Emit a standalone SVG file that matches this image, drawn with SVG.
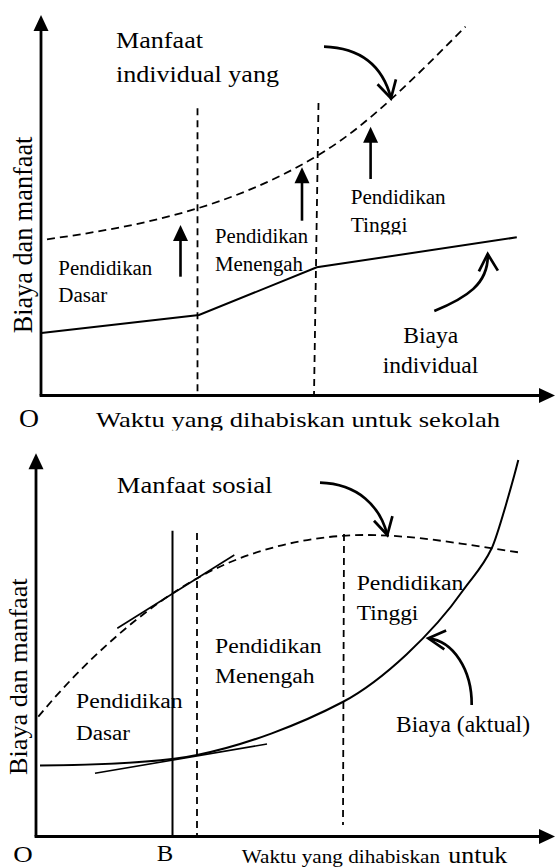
<svg xmlns="http://www.w3.org/2000/svg" width="555" height="868" viewBox="0 0 555 868">
<style>
text{font-family:'Liberation Serif','Times New Roman',serif;fill:#000;}
.ax{stroke:#000;stroke-width:2.8;fill:none;}
.solid{stroke:#000;stroke-width:2;fill:none;}
.thin{stroke:#000;stroke-width:1.6;fill:none;}
.dash{stroke:#000;stroke-width:1.8;fill:none;stroke-dasharray:8 5;}
.vdash{stroke:#000;stroke-width:1.8;fill:none;stroke-dasharray:7 5;}
.up{stroke:#000;stroke-width:2.6;fill:none;}
.curv{stroke:#000;stroke-width:2.7;fill:none;}
.lab{font-size:20px;}
.big{font-size:23px;}
</style>
<defs>
<marker id="fill" markerUnits="userSpaceOnUse" markerWidth="30" markerHeight="30" orient="auto" overflow="visible" refX="0" refY="0">
<path d="M-6,-7.5 L10,0 L-6,7.5 Z" fill="#000"/>
</marker>
<marker id="open" markerUnits="userSpaceOnUse" markerWidth="40" markerHeight="40" orient="auto" overflow="visible" refX="0" refY="0">
<path d="M-17,-9.5 L0,0 L-17,9.5" fill="none" stroke="#000" stroke-width="2.7" stroke-linejoin="miter"/>
</marker>
<clipPath id="clipTinggi"><rect x="300" y="200" width="150" height="34.5"/></clipPath>
<clipPath id="clipWaktu"><rect x="0" y="400" width="555" height="30.5"/></clipPath>
</defs>

<g id="chart-individual">
<g id="axes-top">
<line class="ax" x1="41" y1="395.5" x2="41" y2="25" marker-end="url(#fill)"/>
<line class="ax" x1="39.6" y1="395.5" x2="545" y2="395.5" marker-end="url(#fill)"/>
</g>
<g id="connectors-top">
<line class="vdash" x1="197.5" y1="108.3" x2="197.5" y2="395.5"/>
<line class="vdash" x1="318.5" y1="103" x2="314" y2="395.5"/>
<path id="manfaat-individual-curve" class="dash" d="M47,239.3 C137,226.7 228.6,209 318.6,155 C368.6,125 415.5,76.7 465.5,26.7"/>
<polyline id="biaya-individual-line" class="solid" points="41.4,333 199,315 316.8,267.3 516.8,237.3"/>
<line class="up" x1="180.5" y1="276.7" x2="180.5" y2="235" marker-end="url(#fill)"/>
<line class="up" x1="302" y1="220.7" x2="302" y2="177.3" marker-end="url(#fill)"/>
<line class="up" x1="370.6" y1="179" x2="370.6" y2="136.7" marker-end="url(#fill)"/>
<path class="curv" d="M324,46.7 C362,48 382.7,66.3 391,98.3" marker-end="url(#open)"/>
<path class="curv" d="M434.3,311 C466,298 488.9,284 487.7,254" marker-end="url(#open)"/>
</g>
<g id="labels-top">
<text class="big" x="116" y="48.3" textLength="87" lengthAdjust="spacingAndGlyphs">Manfaat</text>
<text class="big" x="116" y="81.7" textLength="163" lengthAdjust="spacingAndGlyphs">individual yang</text>
<text class="lab" x="58.3" y="275" textLength="94" lengthAdjust="spacingAndGlyphs">Pendidikan</text>
<text class="lab" x="58.3" y="301.7" textLength="49" lengthAdjust="spacingAndGlyphs">Dasar</text>
<text class="lab" x="215" y="243.3" textLength="93" lengthAdjust="spacingAndGlyphs">Pendidikan</text>
<text class="lab" x="215" y="270.7" textLength="88" lengthAdjust="spacingAndGlyphs">Menengah</text>
<text class="lab" x="350.7" y="204" textLength="95" lengthAdjust="spacingAndGlyphs">Pendidikan</text>
<text class="lab" x="350.7" y="231.7" textLength="56.7" lengthAdjust="spacingAndGlyphs" clip-path="url(#clipTinggi)">Tinggi</text>
<text class="big" x="403.3" y="343.3" textLength="55" lengthAdjust="spacingAndGlyphs">Biaya</text>
<text class="big" x="382.7" y="373.3" textLength="95.6" lengthAdjust="spacingAndGlyphs">individual</text>
<text font-size="26.5" transform="translate(31.7,235) rotate(-90)" text-anchor="middle" textLength="196.7" lengthAdjust="spacingAndGlyphs">Biaya dan manfaat</text>
<text font-size="25" x="19" y="426.7" textLength="20" lengthAdjust="spacingAndGlyphs">O</text>
<text font-size="22" x="96" y="426.7" textLength="404" lengthAdjust="spacingAndGlyphs" clip-path="url(#clipWaktu)">Waktu yang dihabiskan untuk sekolah</text>
</g>
</g>

<g id="chart-sosial">
<g id="axes-bottom">
<line class="ax" x1="36" y1="836.5" x2="36" y2="463.3" marker-end="url(#fill)"/>
<line class="ax" x1="34.6" y1="836.5" x2="545" y2="836.5" marker-end="url(#fill)"/>
</g>
<g id="connectors-bottom">
<line class="solid" x1="172.5" y1="530.7" x2="172.5" y2="836.5"/>
<line class="vdash" x1="197" y1="533" x2="197" y2="836.5"/>
<line class="vdash" x1="344" y1="534" x2="343" y2="825"/>
<path id="manfaat-sosial-curve" class="dash" d="M38.3,716.7 C85,660 145,606.7 200,576.7 C250,549 311,535 366,535 C416,535 468,545 518.3,552.3"/>
<path id="biaya-aktual-curve" class="solid" d="M40,765.5 C95,765 157,763 197,755 C245,745.4 300,724.5 342.7,702 C382.7,680.8 433.3,633 463.3,590 C472.8,576.4 482.2,568.3 491.7,548.3 C497.7,535.7 514.3,476 518.3,460"/>
<line class="thin" x1="117.3" y1="628.3" x2="234.3" y2="555"/>
<line class="thin" x1="95" y1="773.3" x2="267" y2="744"/>
<path class="curv" d="M320,482.7 C358,484 380.1,506 387.3,535" marker-end="url(#open)"/>
<path class="curv" d="M471.7,705 C472,670 453.3,640.7 428.3,638.3" marker-end="url(#open)"/>
</g>
<g id="labels-bottom">
<text font-size="24" x="116.8" y="493.3" textLength="155.7" lengthAdjust="spacingAndGlyphs">Manfaat sosial</text>
<text class="lab" x="76" y="708.3" textLength="106.7" lengthAdjust="spacingAndGlyphs">Pendidikan</text>
<text class="lab" x="76" y="740" textLength="54" lengthAdjust="spacingAndGlyphs">Dasar</text>
<text class="lab" x="215" y="652.7" textLength="106.5" lengthAdjust="spacingAndGlyphs">Pendidikan</text>
<text class="lab" x="215" y="683.3" textLength="99.5" lengthAdjust="spacingAndGlyphs">Menengah</text>
<text class="lab" x="356.7" y="590" textLength="106.7" lengthAdjust="spacingAndGlyphs">Pendidikan</text>
<text class="lab" x="356.7" y="620" textLength="61.7" lengthAdjust="spacingAndGlyphs">Tinggi</text>
<text font-size="22.5" x="396" y="731.7" textLength="134" lengthAdjust="spacingAndGlyphs">Biaya (aktual)</text>
<text font-size="26" transform="translate(26.7,676.7) rotate(-90)" text-anchor="middle" textLength="196.7" lengthAdjust="spacingAndGlyphs">Biaya dan manfaat</text>
<text font-size="23" x="13.3" y="862" textLength="19.5" lengthAdjust="spacingAndGlyphs">O</text>
<text font-size="23" x="156.7" y="860.7" textLength="16.5" lengthAdjust="spacingAndGlyphs">B</text>
<text font-size="18" x="241.7" y="862.7" textLength="198.3" lengthAdjust="spacingAndGlyphs">Waktu yang dihabiskan</text>
<text font-size="23" x="448.3" y="863.3" textLength="59" lengthAdjust="spacingAndGlyphs">untuk</text>
</g>
</g>
</svg>
